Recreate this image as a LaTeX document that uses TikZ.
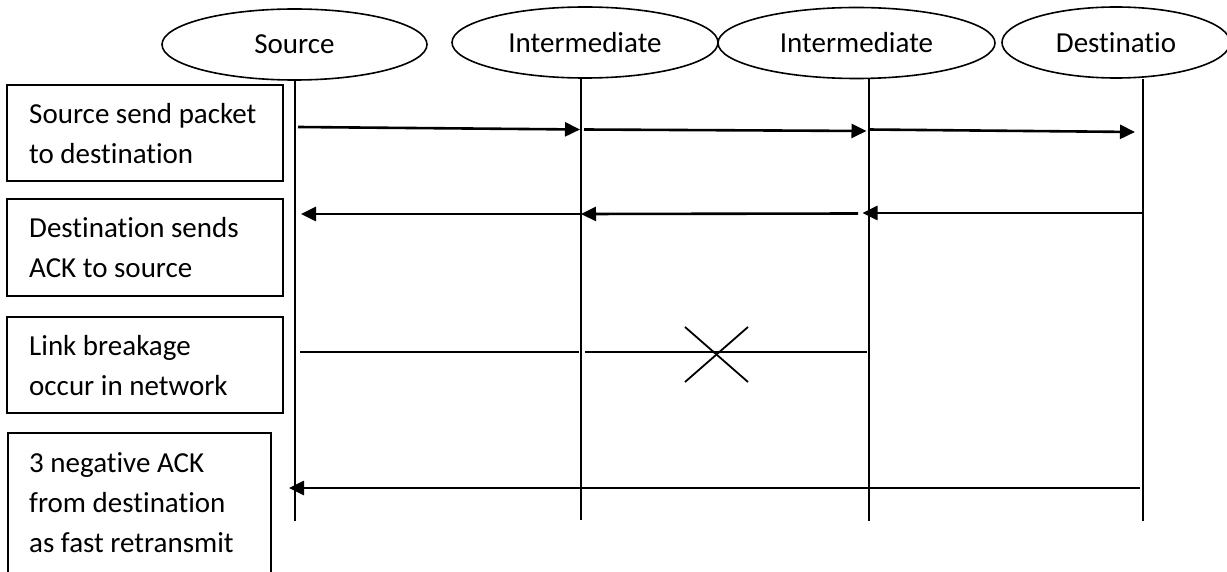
\documentclass[tikz,border=0pt]{standalone}
\usepackage{fontspec}
\setmainfont[Ligatures=NoCommon]{Carlito}
\usetikzlibrary{shapes.geometric,arrows.meta}

\begin{document}
\begin{tikzpicture}[x=1pt,y=-1pt,
  every node/.style={font=\fontsize{29}{40}\selectfont},
  actor/.style={ellipse,draw,line width=1.6pt,inner sep=0pt,minimum height=71pt},
  notebox/.style={rectangle,draw,line width=1.6pt,inner sep=0pt},
  notetext/.style={anchor=north west,inner sep=0pt,align=left},
  lifeline/.style={line width=1.7pt},
  msg/.style={line width=2.6pt,-{Triangle[length=15pt,width=14pt]}},
  link/.style={line width=2pt},
  cross/.style={line width=1.8pt}]

\useasboundingbox (0,0) rectangle (1227,572);
\clip (0,0) rectangle (1227,572);

% participants
\node[actor,minimum width=265pt] (src) at (294.5,44.5) {Source};
\node[actor,minimum width=266pt] (im1) at (585,42.5) {Intermediate};
\node[actor,minimum width=277pt] (im2) at (856.5,43) {Intermediate};
\node[actor,minimum width=228pt] (dst) at (1116,42.5) {Destinatio};

% lifelines
\coordinate (srcEnd) at (295,521);
\coordinate (im1End) at (581,520);
\coordinate (im2End) at (869,521);
\coordinate (dstEnd) at (1143,521);
\draw[lifeline] (src.south -| srcEnd) -- (srcEnd);
\draw[lifeline] (im1.south -| im1End) -- (im1End);
\draw[lifeline] (im2.south -| im2End) -- (im2End);
\draw[lifeline] (dst.south -| dstEnd) -- (dstEnd);

% step descriptions
\node[notebox,minimum width=276pt,minimum height=96pt] (box1) at (145,133) {};
\node[notebox,minimum width=276pt,minimum height=97pt] (box2) at (145,247.5) {};
\node[notebox,minimum width=276pt,minimum height=96pt] (box3) at (145,365) {};
\node[notebox,minimum width=263pt,minimum height=170pt] (box4) at (139.5,518) {};
\node[notetext] (txt1) at (29,95) {\strut Source send packet\\to destination};
\node[notetext] (txt2) at (29,209) {\strut Destination sends\\ACK to source};
\node[notetext] (txt3) at (29,327) {\strut Link breakage\\occur in network};
\node[notetext] (txt4) at (29,444) {\strut 3 negative ACK\\from destination\\as fast retransmit};

% packet forwarded hop by hop
\coordinate (a1s) at (298,127);   \coordinate (a1e) at (580,129.5);
\coordinate (a2s) at (584,129.5); \coordinate (a2e) at (866.5,131);
\coordinate (a3s) at (868,129.5); \coordinate (a3e) at (1135,132);
\draw[msg] (a1s) -- (a1e);
\draw[msg] (a2s) -- (a2e);
\draw[msg] (a3s) -- (a3e);

% acknowledgement back to the source
\coordinate (b1s) at (1142,213);  \coordinate (b1e) at (862.5,213);
\coordinate (b2s) at (858,213.5); \coordinate (b2e) at (581,214);
\coordinate (b3s) at (580,214);   \coordinate (b3e) at (301,214);
\draw[msg] (b1s) -- (b1e);
\draw[msg] (b2s) -- (b2e);
\draw[msg] (b3s) -- (b3e);

% broken link
\coordinate (c1s) at (300,352); \coordinate (c1e) at (579,352);
\coordinate (c2s) at (585,352); \coordinate (c2e) at (867,352);
\draw[link] (c1s) -- (c1e);
\draw[link] (c2s) -- (c2e);
\coordinate (x1) at (685,327); \coordinate (x2) at (748,382);
\coordinate (x3) at (748,327); \coordinate (x4) at (685,382);
\draw[cross] (x1) -- (x2);
\draw[cross] (x3) -- (x4);

% negative acknowledgements
\coordinate (d1s) at (1140,488); \coordinate (d1e) at (289,488);
\draw[msg] (d1s) -- (d1e);
\end{tikzpicture}
\end{document}
